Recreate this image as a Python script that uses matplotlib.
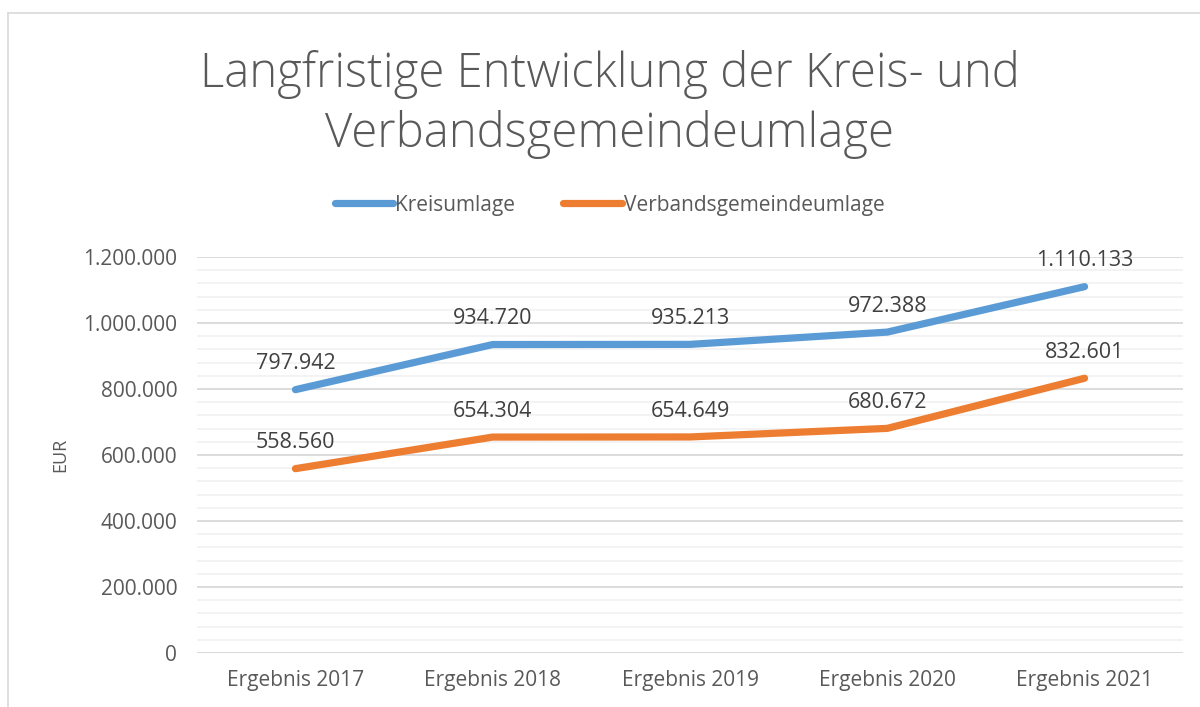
import matplotlib.pyplot as plt
from matplotlib.lines import Line2D
from matplotlib.ticker import FuncFormatter, MultipleLocator

#### Data ####
jahre = ["Ergebnis 2017", "Ergebnis 2018", "Ergebnis 2019", "Ergebnis 2020", "Ergebnis 2021"]
kreisumlage = [797942, 934720, 935213, 972388, 1110133]
vg_umlage = [558560, 654304, 654649, 680672, 832601]

blau = "#5B9BD5"
orange = "#ED7D31"
txt = "#404040"
tick_col = "#595959"

def de_fmt(v, pos=None):
	return f"{int(round(v)):,}".replace(",", ".")

plt.rcParams["font.family"] = ["Open Sans", "DejaVu Sans"]

fig = plt.figure(figsize=(12, 7.07), dpi=100)
ax = fig.add_axes([0.164, 0.0764, 0.822, 0.5601])

x = range(len(jahre))
for werte, farbe, name in [(kreisumlage, blau, "Kreisumlage"), (vg_umlage, orange, "Verbandsgemeindeumlage")]:
	ax.plot(x, werte, color=farbe, lw=5.2, solid_capstyle="round", solid_joinstyle="round", label=name, zorder=3)
	for xi, v in zip(x, werte):
		ax.annotate(de_fmt(v), (xi, v), xytext=(0, 11), textcoords="offset points",
			ha="center", va="bottom", fontsize=15.5, color=txt)

ax.set_xlim(-0.5, len(jahre) - 0.5)
ax.set_ylim(0, 1200000)
ax.yaxis.set_major_locator(MultipleLocator(200000))
ax.yaxis.set_minor_locator(MultipleLocator(40000))
ax.yaxis.set_major_formatter(FuncFormatter(de_fmt))
ax.set_xticks(list(x))
ax.set_xticklabels(jahre)
ax.tick_params(axis="both", which="both", length=0, labelsize=15, labelcolor=tick_col)
ax.tick_params(axis="y", pad=14)
ax.tick_params(axis="x", pad=12)
ax.grid(axis="y", which="major", color="#D9D9D9", lw=1.3, zorder=0)
ax.grid(axis="y", which="minor", color="#F2F2F2", lw=1.3, zorder=0)
for s in ax.spines.values():
	s.set_visible(False)
ax.axhline(0, color="#D9D9D9", lw=1.3, zorder=1)
ax.set_ylabel("EUR", fontsize=13, color=tick_col, labelpad=10)

fig.text(0.508, 0.852, "Langfristige Entwicklung der Kreis- und\nVerbandsgemeindeumlage",
	ha="center", va="center", fontsize=34, color="#595959", fontweight="light", linespacing=1.3)

leg = fig.legend(loc="center", bbox_to_anchor=(0.508, 0.71), ncol=2, frameon=False,
	fontsize=15, handlelength=2.8, handletextpad=0.1, columnspacing=2.3)
for t in leg.get_texts():
	t.set_color(tick_col)

# Rahmen nur oben und links sichtbar
fig.lines.append(Line2D([0.0067, 1.0], [0.9816, 0.9816], transform=fig.transFigure, color="#D9D9D9", lw=1.2))
fig.lines.append(Line2D([0.0067, 0.0067], [0.0, 0.9816], transform=fig.transFigure, color="#D9D9D9", lw=1.2))

fig.savefig("out.png", dpi=100)
